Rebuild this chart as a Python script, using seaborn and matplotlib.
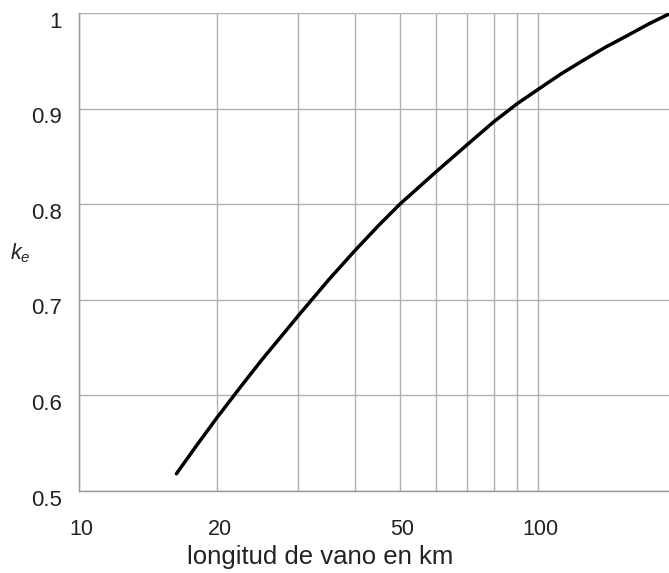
import pandas as pd
import seaborn as sns
import matplotlib.pyplot as plt
from matplotlib.transforms import ScaledTranslation

# k_e against span length
span_km = [16.3, 18, 20, 22.5, 25, 27.5, 30, 35, 40, 45, 50, 60, 70, 80, 90,
           100, 112, 125, 140, 156, 175, 193]
k_e = [0.518, 0.547, 0.577, 0.609, 0.637, 0.661, 0.683, 0.721, 0.752, 0.778,
       0.800, 0.834, 0.862, 0.886, 0.905, 0.920, 0.936, 0.950, 0.964, 0.976,
       0.989, 0.999]

x_ticks = [10, 20, 30, 40, 50, 60, 70, 80, 90, 100]
x_labels = ["10", "20", "", "", "50", "", "", "", "", "100"]
y_ticks = [0.5, 0.6, 0.7, 0.8, 0.9, 1.0]
y_labels = ["0.5", "0.6", "0.7", "0.8", "0.9", "1"]

sns.set_style("white")
plt.rcParams["font.family"] = ["Liberation Sans", "DejaVu Sans"]
plt.rcParams["mathtext.fontset"] = "custom"
plt.rcParams["mathtext.it"] = "Liberation Sans:italic"
plt.rcParams["mathtext.rm"] = "Liberation Sans"

df = pd.DataFrame({"span": span_km, "ke": k_e})

fig = plt.figure(figsize=(6.69, 5.73), dpi=100)
ax = fig.add_axes([79 / 669, 1 - 491 / 573, 1 - 79 / 669, (491 - 13) / 573])

sns.lineplot(data=df, x="span", y="ke", color="black", linewidth=2.5, ax=ax)

ax.set_xscale("log")
ax.set_xlim(10, 10 ** (1 + 590 / 459))
ax.set_ylim(0.5, 1.0)
ax.set_xticks(x_ticks)
ax.set_xticklabels(x_labels)
ax.minorticks_off()
ax.set_yticks(y_ticks)
ax.set_yticklabels(y_labels)

ax.grid(True, color="#b0b0b0", linewidth=1.0)
ax.set_axisbelow(True)
ax.tick_params(axis="x", direction="out", length=5, width=1, color="#999999",
               pad=15, labelsize=15.5, labelcolor="#222222")
ax.tick_params(axis="y", direction="inout", length=18, width=1, color="#999999",
               pad=3.5, labelsize=16, labelcolor="#222222")

# only the decade ticks poke below the axis
for val, tick in zip(x_ticks, ax.xaxis.get_major_ticks()):
    if val not in (10, 100):
        tick.tick1line.set_visible(False)

# labels in the original sit slightly below / right of their gridlines
for lab in ax.get_yticklabels():
    lab.set_transform(lab.get_transform() + ScaledTranslation(0, -0.065, fig.dpi_scale_trans))
for lab in ax.get_xticklabels():
    lab.set_transform(lab.get_transform() + ScaledTranslation(0.025, 0, fig.dpi_scale_trans))

for side in ["top", "right"]:
    ax.spines[side].set_visible(False)
for side in ["left", "bottom"]:
    ax.spines[side].set_color("#999999")
    ax.spines[side].set_linewidth(1.0)

# the original plot is cropped on the right, so its x label is off-centre
ax.set_xlabel("longitud de vano en km", fontsize=18.5, color="#222222",
              labelpad=4, x=(320 - 79) / 590)
ax.set_ylabel("")
fig.text(10 / 669, 1 - 253 / 573, "$k_e$", fontsize=15.5, color="#222222",
         ha="left", va="center")

fig.savefig("out.png", dpi=100)
